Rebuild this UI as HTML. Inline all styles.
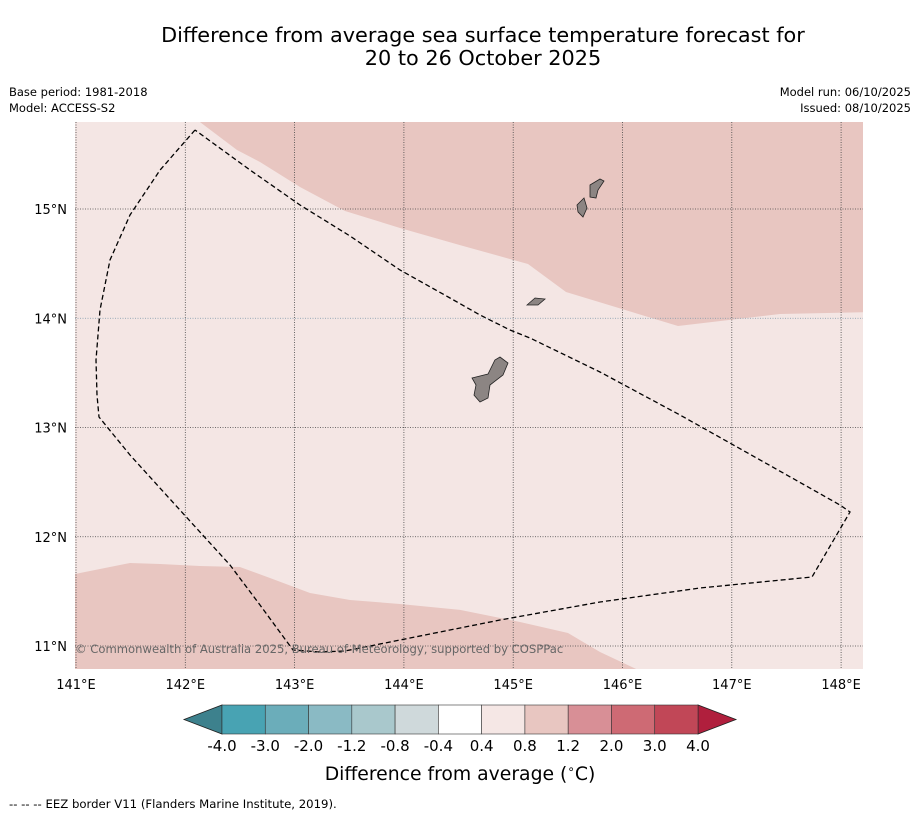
<!DOCTYPE html>
<html><head><meta charset="utf-8">
<style>
body{margin:0;background:#fff;width:919px;height:816px;overflow:hidden;font-family:"Liberation Sans","DejaVu Sans",sans-serif;}
</style></head>
<body>
<svg id="chart" width="919" height="816" xmlns="http://www.w3.org/2000/svg" font-family="DejaVu Sans, Liberation Sans, sans-serif">
<text x="483" y="42" font-size="20.8" text-anchor="middle">Difference from average sea surface temperature forecast for</text>
<text x="483" y="65" font-size="20.8" text-anchor="middle">20 to 26 October 2025</text>
<text x="9" y="96" font-size="11.5">Base period: 1981-2018</text>
<text x="9" y="112" font-size="11.5">Model: ACCESS-S2</text>
<text x="911" y="96" font-size="11.5" text-anchor="end">Model run: 06/10/2025</text>
<text x="911" y="112" font-size="11.5" text-anchor="end">Issued: 08/10/2025</text>
<defs><clipPath id="mapclip"><rect x="75" y="122" width="788" height="547"/></clipPath></defs>
<g id="map" clip-path="url(#mapclip)">
<rect x="75" y="122" width="788" height="547" fill="#f4e6e4"/>
</g>
<g id="axes"></g>
<text x="75" y="653" font-size="11.6" fill="#666">© Commonwealth of Australia 2025, Bureau of Meteorology, supported by COSPPac</text>
<g id="cbar"></g>
<text x="460" y="780" font-size="18.8" text-anchor="middle">Difference from average (<tspan font-size="12" dy="-7">∘</tspan><tspan dy="7">C)</tspan></text>
<text x="9" y="808" font-size="11.7">--  --  -- EEZ border V11 (Flanders Marine Institute, 2019).</text>
</svg>
<script>
const lonMin=140.99, lonMax=148.2, latMin=10.79, latMax=15.796;
const lonTicks=[141,142,143,144,145,146,147,148];
const latTicks=[11,12,13,14,15];
const anomalyNorth=[[142.134,15.9],[142.134,15.796],[142.473,15.54],[142.683,15.43],[143.049,15.201],[143.461,14.982],[143.964,14.826],[144.513,14.67],[145.135,14.497],[145.483,14.24],[146.508,13.929],[147.441,14.039],[148.3,14.057],[148.3,15.9]];
const anomalySouth=[[140.9,11.641],[141.494,11.76],[141.769,11.751],[142.134,11.732],[142.5,11.723],[142.775,11.622],[143.141,11.485],[143.507,11.421],[143.964,11.384],[144.513,11.33],[145.062,11.22],[145.501,11.119],[145.794,10.945],[146.123,10.79],[146.2,10.7],[140.9,10.7]];
const eezBorder=[[142.089,15.723],[141.769,15.357],[141.494,14.945],[141.311,14.533],[141.22,14.076],[141.183,13.618],[141.192,13.297],[141.21,13.096],[141.494,12.748],[141.951,12.245],[142.409,11.741],[142.683,11.375],[142.985,10.963],[143.232,10.945],[143.461,10.954],[143.964,11.055],[144.879,11.238],[145.794,11.403],[146.709,11.531],[147.734,11.632],[148.081,12.227],[147.99,12.291],[147.258,12.703],[146.526,13.114],[145.794,13.508],[145.154,13.819],[144.971,13.892],[144.696,14.03],[144.422,14.185],[143.964,14.442],[143.507,14.753],[143.049,15.037],[142.592,15.357],[142.089,15.723]];
const guam=[[144.623,13.453],[144.769,13.49],[144.833,13.618],[144.879,13.645],[144.952,13.59],[144.907,13.481],[144.788,13.389],[144.769,13.27],[144.696,13.233],[144.641,13.297],[144.66,13.389]];
const rota=[[145.126,14.121],[145.199,14.185],[145.291,14.176],[145.227,14.121]];
const tinian=[[145.584,15.037],[145.648,15.101],[145.675,15.009],[145.639,14.927],[145.593,14.973]];
const saipan=[[145.703,15.22],[145.794,15.275],[145.831,15.256],[145.776,15.174],[145.758,15.101],[145.703,15.11]];
const cbarLabels=["-4.0","-3.0","-2.0","-1.2","-0.8","-0.4","0.4","0.8","1.2","2.0","3.0","4.0"];
const cbarColors=["#48a3b3","#6badba","#8abac4","#a9c8cc","#cfd9db","#ffffff","#f5e7e5","#e8c6c1","#d88f96","#ce6a74","#c14757"];
const NS="http://www.w3.org/2000/svg";
const X=lon=>76+(lon-141)*109.3;
const Y=lat=>209-(lat-15)*109.25;
function mk(tag,attrs,parent){const e=document.createElementNS(NS,tag);for(const k in attrs)e.setAttribute(k,attrs[k]);parent.appendChild(e);return e;}
function pts(a){return a.map(p=>X(p[0]).toFixed(1)+","+Y(p[1]).toFixed(1)).join(" ");}
const map=document.getElementById('map');
let e=mk('polygon',{points:pts(anomalyNorth),fill:'#e8c6c1',stroke:'none'},map);


e=mk('polygon',{points:pts(anomalySouth),fill:'#e8c6c1',stroke:'none'},map);


lonTicks.forEach(l=>{const g=mk('line',{x1:X(l),x2:X(l),y1:122,y2:669,stroke:'#444','stroke-width':0.8,'stroke-dasharray':'1,1.5'},map);

});
latTicks.forEach(l=>{const g=mk('line',{x1:75,x2:863,y1:Y(l),y2:Y(l),stroke:l==14?'#7a9aaa':'#444','stroke-width':0.8,'stroke-dasharray':'1,1.5'},map);

});
[guam,rota,tinian,saipan].forEach((isl,i)=>{const g=mk('polygon',{points:pts(isl),fill:'#8c8583',stroke:'#222','stroke-width':0.8},map);

});
e=mk('polyline',{points:pts(eezBorder),fill:'none',stroke:'#000','stroke-width':1.3,'stroke-dasharray':'5,3'},map);


const axes=document.getElementById('axes');
lonTicks.forEach(l=>{const t=mk('text',{x:X(l),y:689,'font-size':13,'text-anchor':'middle'},axes);t.textContent=l+"°E";

});
latTicks.forEach(l=>{const t=mk('text',{x:67,y:Y(l)+5,'font-size':13,'text-anchor':'end'},axes);t.textContent=l+"°N";

});
const cb=document.getElementById('cbar');
const x0=222,x1=698,y0=705,y1=734,w=(x1-x0)/cbarColors.length;
e=mk('polygon',{points:`184,${(y0+y1)/2} ${x0},${y0} ${x0},${y1}`,fill:'#3d818d',stroke:'#222','stroke-width':0.8},cb);


e=mk('polygon',{points:`736,${(y0+y1)/2} ${x1},${y0} ${x1},${y1}`,fill:'#b01f3d',stroke:'#222','stroke-width':0.8},cb);


cbarColors.forEach((c,i)=>{const r=mk('rect',{x:x0+i*w,y:y0,width:w,height:y1-y0,fill:c,stroke:'#333','stroke-width':0.6},cb);

});
cbarLabels.forEach((s,i)=>{const t=mk('text',{x:x0+i*w,y:751,'font-size':15,'text-anchor':'middle'},cb);t.textContent=s;

});
</script>
</body></html>
